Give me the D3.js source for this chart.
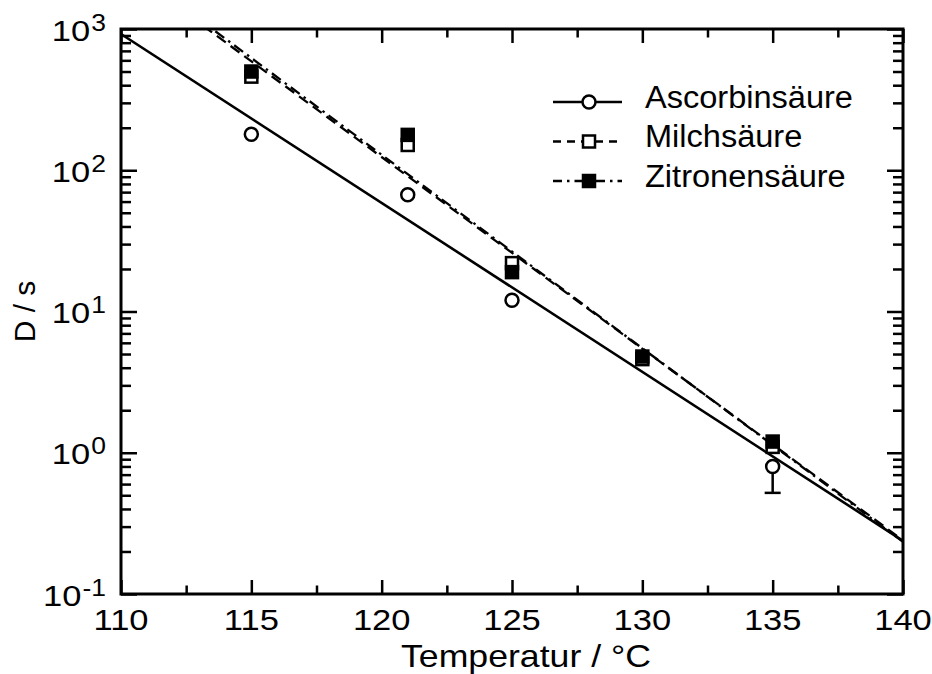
<!DOCTYPE html>
<html>
<head>
<meta charset="utf-8">
<script src="https://cdn.jsdelivr.net/npm/d3@7"></script>
<style>
  html, body { margin: 0; padding: 0; background: #fff; }
  svg { display: block; font-family: "Liberation Sans", Arial, sans-serif; }
</style>
</head>
<body>
<svg id="chart" width="932" height="674"></svg>
<script>
// Decimal reduction times D (s) at heating temperature T (°C)
const temperatures = [115, 121, 125, 130, 135];
const ascorbin  = [180, 67, 12, null, 0.8];
const milch     = [460, 151, 22, 4.6, 1.1];
const zitronen  = [500, 178, 19, 4.8, 1.2];
// lower end of the error bar for ascorbic acid at 135 °C
const ascorbinErrT = [135];
const ascorbinErrLow = [0.52];

// regression lines, evaluated at both ends of the temperature range
const fitT = [110, 140];
const fitAscorbin = [922, 0.238];
const fitMilch    = [2818, 0.240];
const fitZitronen = [3020, 0.234];

const xTicks = [110, 115, 120, 125, 130, 135, 140];
const xMinor = [112.5, 117.5, 122.5, 127.5, 132.5, 137.5];
const yExponents = [-1, 0, 1, 2, 3];

const legendLabels = ["Ascorbinsäure", "Milchsäure", "Zitronensäure"];

const svg = d3.select("#chart");
const L = 121, R = 903, T = 29, B = 594;

const x = d3.scaleLinear().domain([110, 140]).range([L, R]);
const y = d3.scaleLog().domain([0.1, 1000]).range([B, T]);

const yMajor = yExponents.map(e => Math.pow(10, e));
const yMinor = [];
for (let e = -1; e < 3; e++) for (let m = 2; m <= 9; m++) yMinor.push(m * Math.pow(10, e));

const FS = 30;
const WIDE = 1.15;           // horizontal stretch of the numeric labels
const axisW = 3, tickW = 2.5;
const majX = 14, minX = 8.5, majY = 16, minY = 10;

function styleAxis(g) {
  g.select(".domain").remove();
  g.selectAll(".tick line").attr("stroke", "#000").attr("stroke-width", tickW);
  g.selectAll(".tick text").remove();
}

// bottom and top ticks (pointing inward)
svg.append("g").attr("transform", `translate(0,${B})`)
  .call(d3.axisBottom(x).tickValues(xTicks).tickSize(-majX)).call(styleAxis);
svg.append("g").attr("transform", `translate(0,${B})`)
  .call(d3.axisBottom(x).tickValues(xMinor).tickSize(-minX)).call(styleAxis);
svg.append("g").attr("transform", `translate(0,${T})`)
  .call(d3.axisTop(x).tickValues(xTicks).tickSize(-majX)).call(styleAxis);
svg.append("g").attr("transform", `translate(0,${T})`)
  .call(d3.axisTop(x).tickValues(xMinor).tickSize(-minX)).call(styleAxis);

// left and right ticks
svg.append("g").attr("transform", `translate(${L},0)`)
  .call(d3.axisLeft(y).tickValues(yMajor).tickSize(-majY)).call(styleAxis);
svg.append("g").attr("transform", `translate(${L},0)`)
  .call(d3.axisLeft(y).tickValues(yMinor).tickSize(-minY)).call(styleAxis);
svg.append("g").attr("transform", `translate(${R},0)`)
  .call(d3.axisRight(y).tickValues(yMajor).tickSize(-majY)).call(styleAxis);
svg.append("g").attr("transform", `translate(${R},0)`)
  .call(d3.axisRight(y).tickValues(yMinor).tickSize(-minY)).call(styleAxis);

// x tick labels
svg.append("g").selectAll("text").data(xTicks).join("text")
  .attr("transform", d => `translate(${x(d)},${B + 36}) scale(${WIDE},1)`)
  .attr("text-anchor", "middle").attr("font-size", FS).attr("fill", "#000")
  .text(d => d);

// y tick labels as powers of ten
const yl = svg.append("g").selectAll("text").data(yExponents).join("text")
  .attr("transform", d => `translate(106,${y(Math.pow(10, d)) + 11.5}) scale(${WIDE},1)`)
  .attr("text-anchor", "end").attr("font-size", FS).attr("fill", "#000");
yl.append("tspan").text("10");
yl.append("tspan").attr("font-size", 23).attr("dy", -10).attr("dx", 1).text(d => d);

// axis titles
svg.append("text").attr("transform", `translate(526,667) scale(${WIDE},1)`)
  .attr("text-anchor", "middle").attr("font-size", 31).text("Temperatur / °C");
svg.append("text").attr("transform", `translate(35,${(T + B) / 2}) rotate(-90)`)
  .attr("text-anchor", "middle").attr("font-size", FS).text("D / s");

// regression lines
svg.append("clipPath").attr("id", "plotclip")
  .append("rect").attr("x", L).attr("y", T).attr("width", R - L).attr("height", B - T);

const line = d3.line().x(d => x(d[0])).y(d => y(d[1]));
const fits = [
  { vals: fitAscorbin, dash: null, w: 2.6 },
  { vals: fitMilch, dash: "11,6", w: 2.3 },
  { vals: fitZitronen, dash: "11,5,2.5,5", w: 2.3 }
];
const lg = svg.append("g").attr("clip-path", "url(#plotclip)");
fits.forEach(f => {
  lg.append("path").datum(fitT.map((t, i) => [t, f.vals[i]]))
    .attr("d", line).attr("fill", "none").attr("stroke", "#000")
    .attr("stroke-width", f.w).attr("stroke-dasharray", f.dash);
});

// error bar (lower part)
const eg = svg.append("g");
ascorbinErrT.forEach((t, i) => {
  const k = temperatures.indexOf(t);
  eg.append("line").attr("x1", x(t)).attr("x2", x(t))
    .attr("y1", y(ascorbin[k])).attr("y2", y(ascorbinErrLow[i]))
    .attr("stroke", "#000").attr("stroke-width", 2.5);
  eg.append("line").attr("x1", x(t) - 8).attr("x2", x(t) + 8)
    .attr("y1", y(ascorbinErrLow[i])).attr("y2", y(ascorbinErrLow[i]))
    .attr("stroke", "#000").attr("stroke-width", 2.5);
});

const SQ = 12;
// ascorbic acid: open circles
svg.append("g").selectAll("circle")
  .data(temperatures.map((t, i) => [t, ascorbin[i]]).filter(d => d[1] != null))
  .join("circle")
  .attr("cx", d => x(d[0])).attr("cy", d => y(d[1])).attr("r", 6.5)
  .attr("fill", "#fff").attr("stroke", "#000").attr("stroke-width", 2.5);
// lactic acid: open squares
svg.append("g").selectAll("rect")
  .data(temperatures.map((t, i) => [t, milch[i]]))
  .join("rect")
  .attr("x", d => x(d[0]) - SQ / 2).attr("y", d => y(d[1]) - SQ / 2)
  .attr("width", SQ).attr("height", SQ)
  .attr("fill", "#fff").attr("stroke", "#000").attr("stroke-width", 2.5);
// citric acid: filled squares
svg.append("g").selectAll("rect")
  .data(temperatures.map((t, i) => [t, zitronen[i]]))
  .join("rect")
  .attr("x", d => x(d[0]) - SQ / 2).attr("y", d => y(d[1]) - SQ / 2)
  .attr("width", SQ).attr("height", SQ)
  .attr("fill", "#000").attr("stroke", "#000").attr("stroke-width", 2.5);

// frame
svg.append("rect").attr("x", L).attr("y", T).attr("width", R - L).attr("height", B - T)
  .attr("fill", "none").attr("stroke", "#000").attr("stroke-width", axisW);

// legend
const legX1 = 553, legX2 = 622, legMid = 589, legText = 645;
const legBase = [107.5, 147, 186.5];
const legendStyles = [
  { dash: null, marker: "circle" },
  { dash: "8,6", marker: "open" },
  { dash: "9,5,2.5,5", marker: "filled" }
];
legendLabels.forEach((lab, i) => {
  const ly = legBase[i] - 5.5;
  const s = legendStyles[i];
  const g = svg.append("g");
  g.append("line").attr("x1", legX1).attr("x2", legX2).attr("y1", ly).attr("y2", ly)
    .attr("stroke", "#000").attr("stroke-width", 2.4).attr("stroke-dasharray", s.dash);
  if (s.marker === "circle") {
    g.append("circle").attr("cx", legMid).attr("cy", ly).attr("r", 6.5)
      .attr("fill", "#fff").attr("stroke", "#000").attr("stroke-width", 2.5);
  } else {
    g.append("rect").attr("x", legMid - SQ / 2).attr("y", ly - SQ / 2)
      .attr("width", SQ).attr("height", SQ)
      .attr("fill", s.marker === "filled" ? "#000" : "#fff")
      .attr("stroke", "#000").attr("stroke-width", 2.5);
  }
  g.append("text").attr("transform", `translate(${legText},${legBase[i]}) scale(1.05,1)`)
    .attr("font-size", 31).text(lab);
});
</script>
</body>
</html>
